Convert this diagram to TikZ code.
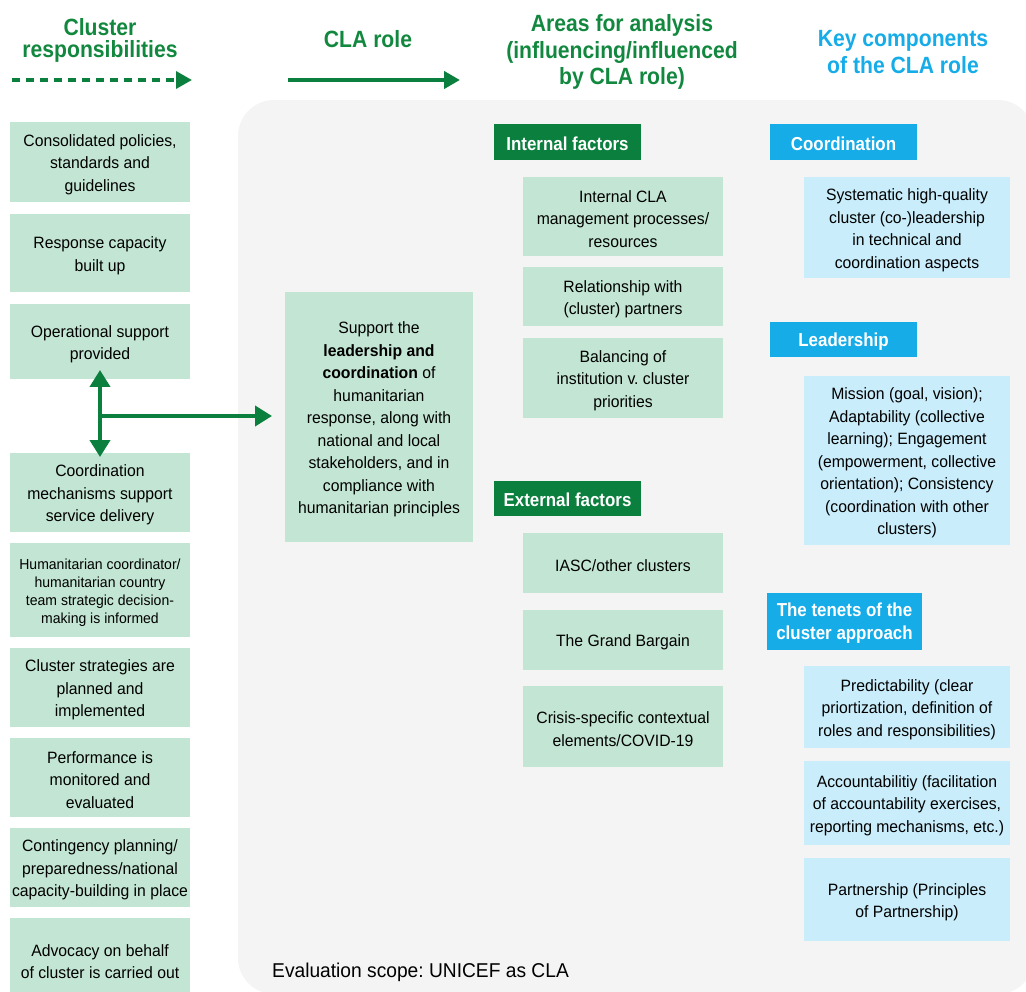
\documentclass[tikz,border=0pt]{standalone}
\usepackage{fontspec}
\setmainfont{Liberation Sans}[FakeStretch=0.96]
\newfontfamily\headfont{Liberation Sans}[FakeStretch=0.9]
\usetikzlibrary{arrows.meta,calc}
\frenchspacing

\definecolor{clagreen}{HTML}{0B7F3D}
\definecolor{titlegreen}{HTML}{12883F}
\definecolor{clablue}{HTML}{16ACE8}
\definecolor{boxgreen}{HTML}{C3E6D4}
\definecolor{boxblue}{HTML}{C9EDFA}
\definecolor{scopegrey}{HTML}{F4F4F4}

\newcommand\mybox[7]{\node[#1, minimum width=#5pt, minimum height=#6pt] (#2) at ({#3+#5/2},{#4+#6/2}) {\rule{0pt}{17pt}#7}; }

\tikzset{
  gbox/.style={fill=boxgreen, inner xsep=1pt, inner ysep=0pt, outer sep=0pt, align=center, font=\fontsize{16.4}{22.5}\selectfont},
  bbox/.style={gbox, fill=boxblue},
  ghead/.style={fill=clagreen, text=white, inner xsep=1pt, inner ysep=0pt, outer sep=0pt, align=center, font=\headfont\bfseries\fontsize{18.8}{22.5}\selectfont},
  bhead/.style={ghead, fill=clablue},
  title/.style={align=center, font=\headfont\bfseries\fontsize{23.5}{26.5}\selectfont},
  garrow/.style={draw=clagreen, line width=4pt},
}

\begin{document}
\begin{tikzpicture}[x=1pt, y=-1pt]
    \clip (0,0) rectangle (1026,992);
    % grey panel, evaluation scope
    \fill[scopegrey, rounded corners=36pt] (238,100) rectangle (1034,994);

    % column titles
    \node[title, text=titlegreen, font=\headfont\bfseries\fontsize{23.5}{22}\selectfont] (tclus) at (100,40) {Cluster\\responsibilities};
    \node[title, text=titlegreen] (trole) at (368,39) {CLA role};
    \node[title, text=titlegreen] (tareas) at (622,52) {Areas for analysis\\(influencing/influenced\\by CLA role)};
    \node[title, text=clablue] (tkey) at (903,52) {Key components\\of the CLA role};

    % title arrows
    \coordinate (dash0) at (12,80);
    \coordinate (dash1) at (192,80);
    \draw[garrow, line width=3.5pt, dash pattern=on 8pt off 6pt, -{Triangle[length=16pt,width=17pt]}] (dash0) -- (dash1);
    \coordinate (role0) at (288,80);
    \coordinate (role1) at (460,80);
    \draw[garrow, -{Triangle[length=16pt,width=17pt]}] (role0) -- (role1);

    % cluster responsibilities
    \mybox{gbox}{cr1}{10}{122}{180}{80}{Consolidated policies,\\standards and\\guidelines}
    \mybox{gbox}{cr2}{10}{214}{180}{78}{Response capacity\\built up}
    \mybox{gbox}{cr3}{10}{304}{180}{75}{Operational support\\provided}
    \mybox{gbox}{cr4}{10}{453}{180}{79}{Coordination\\mechanisms support\\service delivery}
    \mybox{gbox, font=\fontsize{14.6}{18}\selectfont}{cr5}{10}{543}{180}{94}{Humanitarian coordinator/\\humanitarian country\\team strategic decision-\\making is informed}
    \mybox{gbox}{cr6}{10}{648}{180}{79}{Cluster strategies are\\planned and\\implemented}
    \mybox{gbox}{cr7}{10}{738}{180}{79}{Performance is\\monitored and\\evaluated}
    \mybox{gbox}{cr8}{10}{828}{180}{79}{Contingency planning/\\preparedness/national\\capacity-building in place}
    \mybox{gbox}{cr9}{10}{918}{180}{82}{Advocacy on behalf\\of cluster is carried out}

    % CLA role
    \mybox{gbox}{role}{285}{292}{188}{250}{Support the\\\textbf{leadership and}\\\textbf{coordination} of\\humanitarian\\response, along with\\national and local\\stakeholders, and in\\compliance with\\humanitarian principles}

    % operational <-> coordination, to CLA role
    \coordinate (fork) at ($(cr3.south)!0.5!(cr4.north)$);
    \draw[garrow, {Triangle[length=17pt,width=20pt]}-{Triangle[length=17pt,width=20pt]}, shorten <=-9pt, shorten >=-4pt] (cr3.south) -- (cr4.north);
    \draw[garrow, -{Triangle[length=17pt,width=20pt]}, shorten >=13pt] (fork) -- (fork -| role.west);

    % internal factors
    \mybox{ghead}{intf}{494}{124}{147}{36}{Internal factors}
    \mybox{gbox}{int1}{523}{177}{200}{79}{Internal CLA\\management processes/\\resources}
    \mybox{gbox}{int2}{523}{267}{200}{59}{Relationship with\\(cluster) partners}
    \mybox{gbox}{int3}{523}{338}{200}{80}{Balancing of\\institution v. cluster\\priorities}

    % external factors
    \mybox{ghead}{extf}{494}{481}{147}{35}{External factors}
    \mybox{gbox}{ext1}{523}{533}{200}{60}{IASC/other clusters}
    \mybox{gbox}{ext2}{523}{610}{200}{60}{The Grand Bargain}
    \mybox{gbox}{ext3}{523}{686}{200}{81}{Crisis-specific contextual\\elements/COVID-19}

    % key components
    \mybox{bhead}{coord}{770}{124}{147}{36}{Coordination}
    \mybox{bbox}{coordtxt}{804}{177}{206}{101}{Systematic high-quality\\cluster (co-)leadership\\in technical and\\coordination aspects}
    \mybox{bhead}{lead}{770}{322}{147}{35}{Leadership}
    \mybox{bbox}{leadtxt}{804}{376}{206}{169}{Mission (goal, vision);\\Adaptability (collective\\learning); Engagement\\(empowerment, collective\\orientation); Consistency\\(coordination with other\\clusters)}
    \mybox{bhead}{tenets}{767}{593}{155}{57}{The tenets of the\\cluster approach}
    \mybox{bbox}{ten1}{804}{666}{206}{82}{Predictability (clear\\priortization, definition of\\roles and responsibilities)}
    \mybox{bbox}{ten2}{804}{761}{206}{84}{Accountabilitiy (facilitation\\of accountability exercises,\\reporting mechanisms, etc.)}
    \mybox{bbox}{ten3}{804}{858}{206}{83}{Partnership (Principles\\of Partnership)}

    % scope label
    \node[anchor=base west, inner sep=0pt, font=\fontsize{20}{24}\selectfont] (scope) at (272,977) {Evaluation scope: UNICEF as CLA};
\end{tikzpicture}
\end{document}
